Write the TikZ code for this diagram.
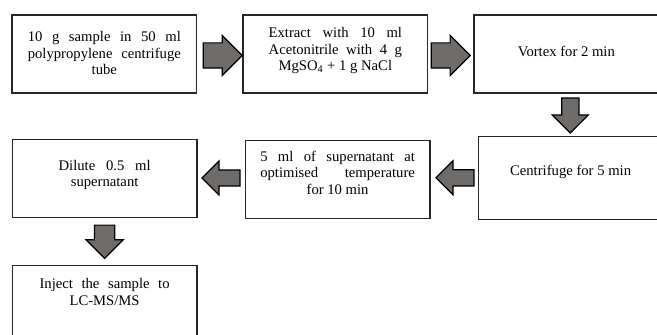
\documentclass[tikz,border=0pt]{standalone}
\usepackage{fontspec}
\setmainfont{Liberation Serif}
\usetikzlibrary{positioning,shapes.arrows,calc}
\definecolor{arrowgray}{RGB}{110,107,107}
\newcommand{\fullline}[2]{\hbox to #1{#2}}

\begin{document}
\begin{tikzpicture}[
	stepbox/.style={rectangle, draw=black!85, line width=1pt, minimum width=138.5pt, inner sep=0pt, align=center, font=\fontsize{11}{12.2}\selectfont},
	flow/.style={single arrow, draw=black, fill=arrowgray, line width=0.9pt, inner xsep=0pt, single arrow tip angle=90, anchor=tail},
	wide/.style={minimum height=29.25pt, inner ysep=9pt, single arrow head extend=5.6pt},
	slim/.style={minimum height=28.5pt, inner ysep=5.6pt, single arrow head extend=6.75pt},
	node distance=33.75pt]
	
	\useasboundingbox (-78.25pt,40.5pt) rectangle ++(492.75pt,-251.25pt);
	
	%Nodes
	\node[stepbox, text height=44.65pt, text depth=13.85pt]	(sample)	at (0,0) {\fullline{114.75pt}{10 g sample in 50 ml}\\ \fullline{114.75pt}{polypropylene centrifuge}\\ tube};
	\node[stepbox, text height=41.65pt, text depth=16.85pt]	(extract)	[right=of sample] {\fullline{100pt}{Extract with 10 ml}\\ \fullline{100pt}{Acetonitrile with 4 g}\\ MgSO\textsubscript{4} + 1 g NaCl};
	\node[stepbox, text height=31.15pt, text depth=27.35pt]	(vortex)	[right=of extract] {Vortex for 2 min};
	\node[stepbox, text height=29.25pt, text depth=33pt, xshift=3.2pt]	(centrifuge)	[below=31.5pt of vortex] {Centrifuge for 5 min};
	\node[stepbox, text height=40.4pt, text depth=18.1pt, yshift=-1.1pt]	(heat)	[left=35.25pt of centrifuge] {\fullline{116pt}{5 ml of supernatant at}\\ \fullline{116pt}{optimised temperature}\\ for 10 min};
	\node[stepbox, text height=35.45pt, text depth=23.05pt, yshift=0.75pt]	(dilute)	[left=35.25pt of heat] {\fullline{69pt}{Dilute 0.5 ml}\\ supernatant};
	\node[stepbox, text height=29.7pt, text depth=28.8pt]	(inject)	[below=35.25pt of dilute] {\fullline{97.5pt}{Inject the sample to}\\ LC-MS/MS};
	
	%Arrows
	\node[flow, wide]	(a1)	at ([shift={(4pt,-1.1pt)}]sample.east) {};
	\node[flow, wide]	(a2)	at ([shift={(1.7pt,-1.1pt)}]extract.east) {};
	\node[flow, rotate=-90, minimum height=26.25pt, inner ysep=6pt, single arrow head extend=7.1pt]	(a3)	at ([shift={(3pt,-2.8pt)}]vortex.south) {};
	\node[flow, slim, rotate=180]	(a4)	at ([xshift=-2.25pt]centrifuge.west) {};
	\node[flow, slim, rotate=180]	(a5)	at ([shift={(-3pt,1pt)}]heat.west) {};
	\node[flow, rotate=-90, minimum height=25pt, inner ysep=7.1pt, single arrow head extend=6.4pt]	(a6)	at ([yshift=-4.9pt]dilute.south) {};
\end{tikzpicture}
\end{document}
